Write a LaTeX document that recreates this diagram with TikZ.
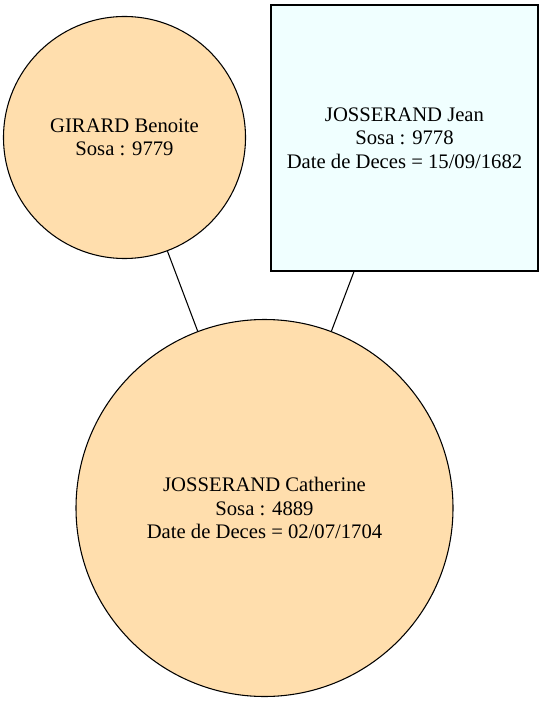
\documentclass[tikz,border=0pt]{standalone}
\usepackage{fontspec}
\setmainfont{Liberation Serif}
\definecolor{sosaorange}{RGB}{255,222,173}
\definecolor{sosablue}{RGB}{240,255,255}

\begin{document}
\begin{tikzpicture}[x=0.75pt, y=-0.75pt,
    femme/.style={circle, draw, fill=sosaorange, line width=0.8pt, inner sep=0pt,
      align=center, font=\fontsize{15.5}{17.6}\selectfont},
    homme/.style={rectangle, draw, fill=sosablue, line width=0.8pt, inner sep=0pt,
      align=center, font=\fontsize{15.5}{17.6}\selectfont},
    lien/.style={line width=0.8pt}]
     \useasboundingbox (0,0) rectangle (543,702);

     % parents
     \node [femme, minimum size=181.5pt] (benoite) at (124.5,137.5)
       {GIRARD Benoite\\Sosa : 9779};
     \node [homme, minimum width=200.25pt, minimum height=199.5pt] (jean) at (404.5,138)
       {JOSSERAND Jean\\Sosa : 9778\\Date de Deces = 15/09/1682};

     % enfant
     \node [femme, minimum size=282.75pt] (catherine) at (264.5,508)
       {JOSSERAND Catherine\\Sosa : 4889\\Date de Deces = 02/07/1704};

     \draw [lien] (benoite) -- (catherine);
     \draw [lien] (jean) -- (catherine);
\end{tikzpicture}
\end{document}
